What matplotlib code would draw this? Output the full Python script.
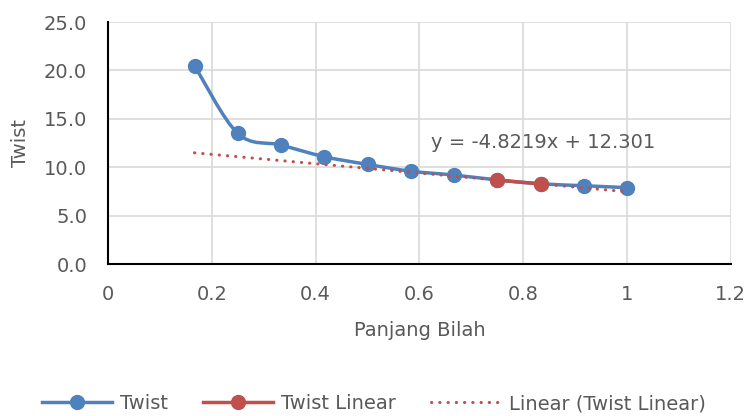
import numpy as np
import matplotlib
matplotlib.use("Agg")
import matplotlib.pyplot as plt
from matplotlib.path import Path
from matplotlib.patches import PathPatch
from matplotlib.lines import Line2D

# data
panjang = [1/6, 2/8, 2/6, 5/12, 0.5, 7/12, 2/3, 0.75, 5/6, 11/12, 1.0]
twist = [20.5, 13.5, 12.3, 11.1, 10.3, 9.6, 9.2, 8.7, 8.3, 8.1, 7.9]
linear_x = [0.75, 5/6]
linear_y = [8.685, 8.283]
slope, intercept = -4.8219, 12.301
trend_range = [1/6, 1.0]

BLUE = "#4F81BD"
RED = "#C0504D"
GREY = "#595959"
FS = 14
DOTS = (0, (0.1, 2.6))

plt.rcParams['font.family'] = ['DejaVu Sans']

fig = plt.figure(figsize=(7.48, 4.16), dpi=100)
ax = fig.add_axes([0.1444, 0.365, 0.8326, 0.582])


def smooth_path(xs, ys):
    # excel-like smoothed line: catmull-rom turned into cubic beziers
    xd, yd = ax.transData.transform(np.column_stack([xs, ys])).T
    pts = np.column_stack([xd, yd])
    verts = [pts[0]]
    codes = [Path.MOVETO]
    n = len(pts)
    for i in range(n - 1):
        p0 = pts[i - 1] if i > 0 else pts[i]
        p1, p2 = pts[i], pts[i + 1]
        p3 = pts[i + 2] if i + 2 < n else pts[i + 1]
        verts += [p1 + (p2 - p0) / 6, p2 - (p3 - p1) / 6, p2]
        codes += [Path.CURVE4] * 3
    verts = ax.transData.inverted().transform(np.array(verts))
    return Path(verts, codes)


ax.set_xlim(0, 1.2)
ax.set_ylim(0, 25)
ax.set_xticks(np.arange(0, 1.21, 0.2))
ax.set_xticklabels(["0", "0.2", "0.4", "0.6", "0.8", "1", "1.2"])
ax.set_yticks(np.arange(0, 25.1, 5))
ax.set_yticklabels([f"{v:.1f}" for v in np.arange(0, 25.1, 5)])

ax.grid(True, color="#D9D9D9", linewidth=1.2, zorder=0)
ax.set_axisbelow(True)
for s in ["top", "right"]:
    ax.spines[s].set_visible(False)
for s in ["left", "bottom"]:
    ax.spines[s].set_color("black")
    ax.spines[s].set_linewidth(1.5)
ax.tick_params(length=0, labelsize=FS, colors=GREY)
ax.tick_params(axis="y", pad=15)
ax.tick_params(axis="x", pad=15)

ax.add_patch(PathPatch(smooth_path(panjang, twist), facecolor="none",
                       edgecolor=BLUE, linewidth=2.5, zorder=3))
ax.plot(panjang, twist, "o", color=BLUE, markersize=10, zorder=4)
ax.plot(linear_x, linear_y, "-o", color=RED, linewidth=2.5, markersize=10, zorder=5)

tx = np.array(trend_range)
ax.plot(tx, slope * tx + intercept, linestyle=DOTS, dash_capstyle="round",
        color=RED, linewidth=2.2, zorder=6)
ax.text(0.623, 12.6, f"y = {slope}x + {intercept}", fontsize=FS, color=GREY,
        va="center", ha="left")

ax.set_xlabel("Panjang Bilah", fontsize=FS, color=GREY, labelpad=12)
ax.set_ylabel("Twist", fontsize=FS, color=GREY, labelpad=10)

handles = [
    Line2D([], [], color=BLUE, linewidth=2.5, marker="o", markersize=10),
    Line2D([], [], color=RED, linewidth=2.5, marker="o", markersize=10),
    Line2D([], [], color=RED, linewidth=2.2, linestyle=DOTS, dash_capstyle="round"),
]
fig.legend(handles, ["Twist", "Twist Linear", "Linear (Twist Linear)"],
           loc="center", bbox_to_anchor=(0.5, 0.03), ncol=3, frameon=False,
           fontsize=FS, labelcolor=GREY, handlelength=3.6, columnspacing=1.8,
           handletextpad=0.4)

fig.savefig("out.png", dpi=100)
